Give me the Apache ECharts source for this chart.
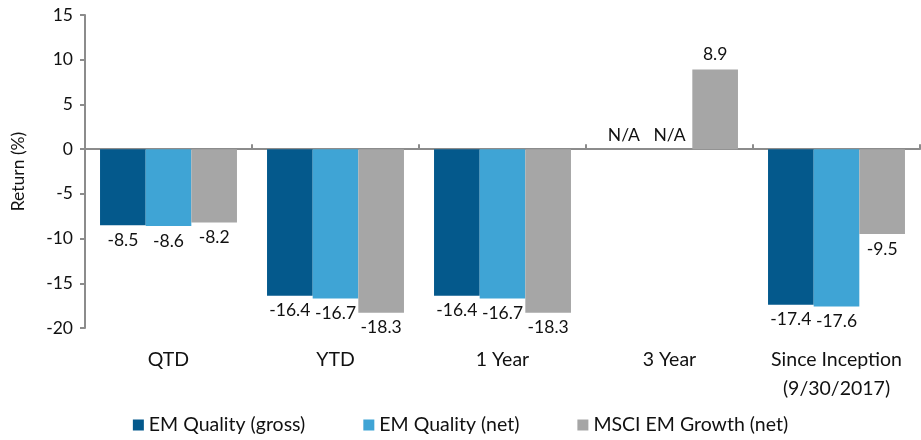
<!DOCTYPE html>
<html><head><meta charset="utf-8">
<script src="https://cdn.jsdelivr.net/npm/echarts@6/dist/echarts.min.js"></script>
<style>html,body{margin:0;padding:0;background:#fff}#c{width:921px;height:440px}</style>
</head><body><div id="c"></div>
<script>
var categories = ['QTD', 'YTD', '1 Year', '3 Year', 'Since Inception\n(9/30/2017)'];
var seriesNames = ['EM Quality (gross)', 'EM Quality (net)', 'MSCI EM Growth (net)'];
var qualityGross = [-8.5, -16.4, -16.4, null, -17.4];
var qualityNet = [-8.6, -16.7, -16.7, null, -17.6];
var msciGrowth = [-8.2, -18.3, -18.3, 8.9, -9.5];
var yTicks = [-20, -15, -10, -5, 0, 5, 10, 15];
var colors = ['#04598C', '#3FA4D5', '#A6A6A6'];
var FONT = 'Lato';
var FS_NUM = 17.5;
var FS_TXT = 19.5;

function toData(arr) {
  return arr.map(function (v) {
    if (v === null) {
      return { value: 0, label: { show: true, position: 'top', distance: 5, formatter: 'N/A' } };
    }
    return { value: v, label: { position: v < 0 ? 'bottom' : 'top' } };
  });
}

var allSeries = [qualityGross, qualityNet, msciGrowth].map(function (arr, i) {
  return {
    name: seriesNames[i],
    type: 'bar',
    xAxisIndex: 0,
    barGap: '0%',
    barCategoryGap: '18%',
    itemStyle: { color: colors[i] },
    label: { show: true, fontFamily: FONT, fontSize: FS_NUM, color: '#111', distance: 6,
      formatter: function (p) { return p.value.toFixed(1); } },
    data: toData(arr)
  };
});

var chart = echarts.init(document.getElementById('c'));
chart.setOption({
  animation: false,
  textStyle: { fontFamily: FONT },
  grid: { left: 85, right: 1, top: 15, bottom: 112, outerBoundsMode: 'none', containLabel: false },
  legend: {
    bottom: 0, left: 'center', itemWidth: 11, itemHeight: 11, itemGap: 58,
    icon: 'rect', data: seriesNames,
    textStyle: { fontFamily: FONT, fontSize: FS_TXT, color: '#111' }
  },
  xAxis: [{
    type: 'category', data: categories, position: 'bottom',
    axisLine: { show: false, onZero: false }, axisTick: { show: false },
    axisLabel: { interval: 0, hideOverlap: false, fontFamily: FONT, fontSize: FS_TXT, color: '#111', margin: 17, lineHeight: 29 }
  }, {
    type: 'category', data: categories,
    axisLine: { show: true, onZero: true, lineStyle: { color: '#8c8c8c', width: 2 } },
    axisTick: { show: true, length: 5, lineStyle: { color: '#8c8c8c', width: 2 } },
    axisLabel: { show: false }
  }],
  yAxis: {
    type: 'value', min: yTicks[0], max: yTicks[yTicks.length - 1], interval: 5,
    name: 'Return (%)', nameLocation: 'middle', nameGap: 58,
    nameTextStyle: { fontFamily: FONT, fontSize: FS_NUM, color: '#111' },
    axisLine: { show: true, lineStyle: { color: '#8c8c8c', width: 2 } },
    axisTick: { show: true, length: 5, lineStyle: { color: '#8c8c8c', width: 2 } },
    axisLabel: { fontFamily: FONT, fontSize: FS_NUM, color: '#111', margin: 12 },
    splitLine: { show: false }
  },
  series: allSeries
});
</script></body></html>
